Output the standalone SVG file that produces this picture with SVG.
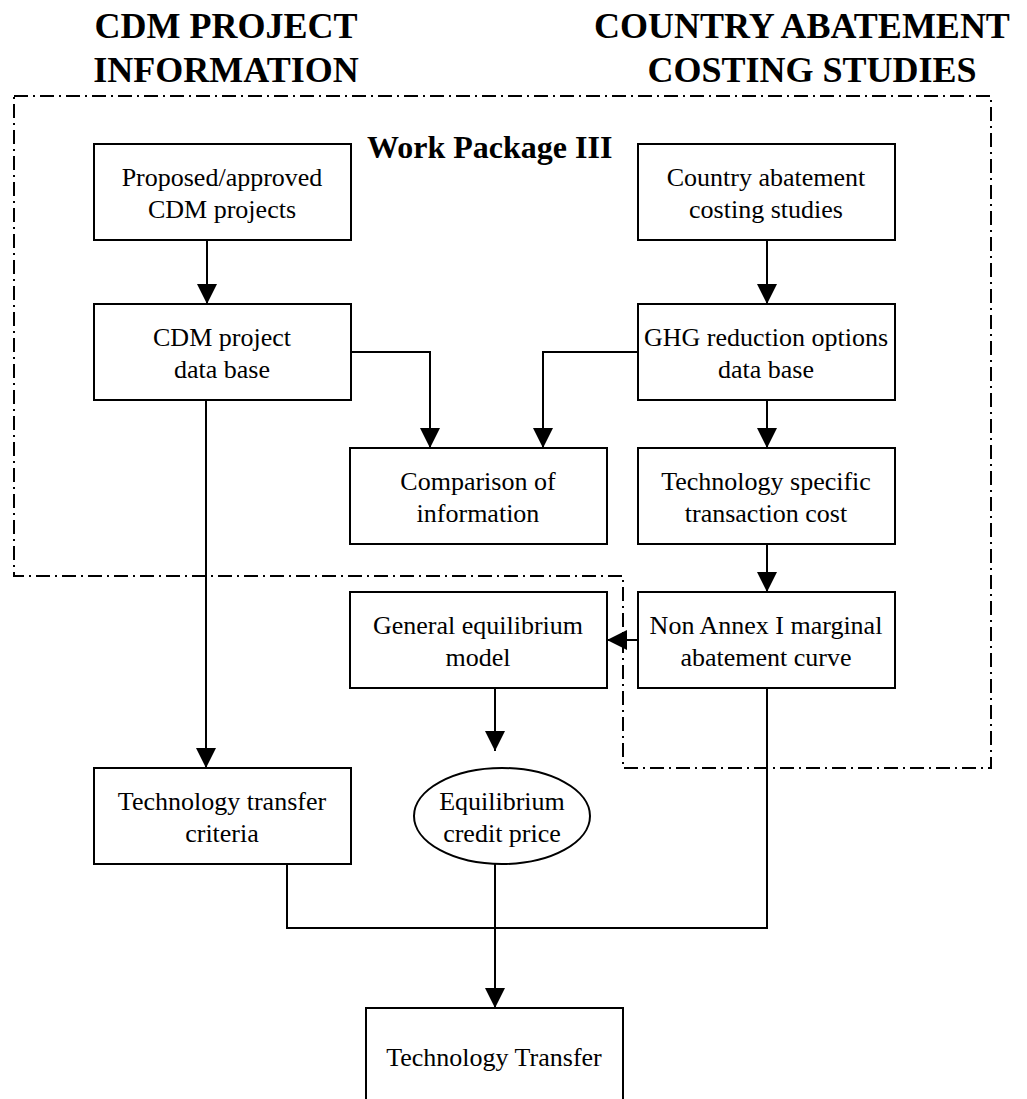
<svg xmlns="http://www.w3.org/2000/svg" width="1027" height="1099" viewBox="0 0 1027 1099">
<style>
text{font-family:"Liberation Serif","Times New Roman",serif;fill:#000}
.t{font-size:26px;text-anchor:middle}
.h{font-size:36px;font-weight:bold;text-anchor:middle}
.box{fill:#fff;stroke:#000;stroke-width:2}
.c{fill:none;stroke:#000;stroke-width:2}
.b{fill:none;stroke:#000;stroke-width:2;stroke-dasharray:14 5 2 5}
</style>
<defs>
<marker id="arr" markerUnits="userSpaceOnUse" markerWidth="20" markerHeight="20" refX="20" refY="10" orient="auto" viewBox="0 0 20 20">
<path d="M0,0 L20,10 L0,20 z" fill="#000"/>
</marker>
</defs>
<rect width="1027" height="1099" fill="#fff"/>
<g id="titles">
<text class="h" x="226" y="38">CDM PROJECT</text>
<text class="h" x="226" y="82">INFORMATION</text>
<text class="h" x="802" y="38">COUNTRY ABATEMENT</text>
<text class="h" x="812" y="82">COSTING STUDIES</text>
</g>
<g id="boundary">
<path class="b" d="M14,96 H991 V768 H623 V576 H14 Z"/>
<text x="367" y="158" style="font-size:32px;font-weight:bold">Work Package III</text>
</g>
<g id="connectors">
<line class="c" x1="207" y1="240" x2="207" y2="304" marker-end="url(#arr)"/>
<line class="c" x1="767" y1="240" x2="767" y2="304" marker-end="url(#arr)"/>
<polyline class="c" points="351,352 430,352 430,448" marker-end="url(#arr)"/>
<polyline class="c" points="638,352 543,352 543,448" marker-end="url(#arr)"/>
<line class="c" x1="767" y1="400" x2="767" y2="448" marker-end="url(#arr)"/>
<line class="c" x1="767" y1="544" x2="767" y2="592" marker-end="url(#arr)"/>
<line class="c" x1="638" y1="640" x2="607" y2="640" marker-end="url(#arr)"/>
<line class="c" x1="495" y1="688" x2="495" y2="751" marker-end="url(#arr)"/>
<line class="c" x1="206" y1="400" x2="206" y2="768" marker-end="url(#arr)"/>
<polyline class="c" points="287,864 287,928 767,928 767,688"/>
<line class="c" x1="495" y1="864" x2="495" y2="1008" marker-end="url(#arr)"/>
</g>
<g id="n-proposed">
<rect class="box" x="94" y="144" width="257" height="96"/>
<text class="t" x="222" y="186">Proposed/approved</text>
<text class="t" x="222" y="218">CDM projects</text>
</g>
<g id="n-cdmdb">
<rect class="box" x="94" y="304" width="257" height="96"/>
<text class="t" x="222" y="346">CDM project</text>
<text class="t" x="222" y="378">data base</text>
</g>
<g id="n-country">
<rect class="box" x="638" y="144" width="257" height="96"/>
<text class="t" x="766" y="186">Country abatement</text>
<text class="t" x="766" y="218">costing studies</text>
</g>
<g id="n-ghg">
<rect class="box" x="638" y="304" width="257" height="96"/>
<text class="t" x="766" y="346">GHG reduction options</text>
<text class="t" x="766" y="378">data base</text>
</g>
<g id="n-comparison">
<rect class="box" x="350" y="448" width="257" height="96"/>
<text class="t" x="478" y="490">Comparison of</text>
<text class="t" x="478" y="522">information</text>
</g>
<g id="n-techspec">
<rect class="box" x="638" y="448" width="257" height="96"/>
<text class="t" x="766" y="490">Technology specific</text>
<text class="t" x="766" y="522">transaction cost</text>
</g>
<g id="n-gem">
<rect class="box" x="350" y="592" width="257" height="96"/>
<text class="t" x="478" y="634">General equilibrium</text>
<text class="t" x="478" y="666">model</text>
</g>
<g id="n-nonannex">
<rect class="box" x="638" y="592" width="257" height="96"/>
<text class="t" x="766" y="634">Non Annex I marginal</text>
<text class="t" x="766" y="666">abatement curve</text>
</g>
<g id="n-criteria">
<rect class="box" x="94" y="768" width="257" height="96"/>
<text class="t" x="222" y="810">Technology transfer</text>
<text class="t" x="222" y="842">criteria</text>
</g>
<g id="n-price">
<ellipse class="box" cx="502" cy="816" rx="88" ry="48"/>
<text class="t" x="502" y="810">Equilibrium</text>
<text class="t" x="502" y="842">credit price</text>
</g>
<g id="n-transfer">
<rect class="box" x="366" y="1008" width="257" height="96"/>
<text class="t" x="494" y="1066">Technology Transfer</text>
</g>
</svg>
